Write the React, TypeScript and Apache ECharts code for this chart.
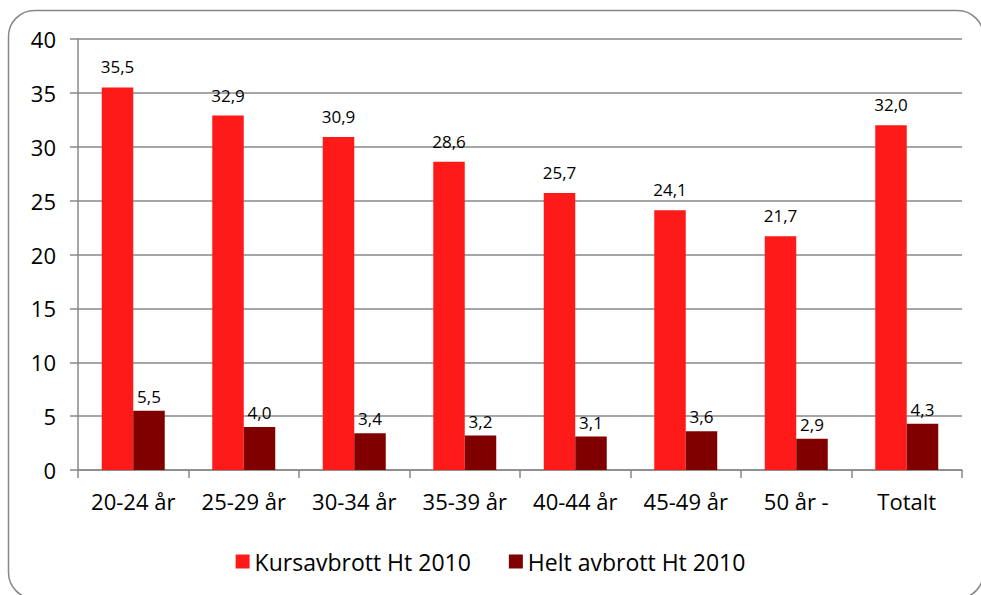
import React, { useEffect, useRef } from "react";
import * as echarts from "echarts";

const categories = ["20-24 år", "25-29 år", "30-34 år", "35-39 år", "40-44 år", "45-49 år", "50 år -", "Totalt"];
const kursavbrott = [35.5, 32.9, 30.9, 28.6, 25.7, 24.1, 21.7, 32.0];
const heltAvbrott = [5.5, 4.0, 3.4, 3.2, 3.1, 3.6, 2.9, 4.3];
const seriesNames = ["Kursavbrott Ht 2010", "Helt avbrott Ht 2010"];

const FONT = "'Open Sans', 'Noto Sans', sans-serif";

export default function App() {
  const ref = useRef<HTMLDivElement>(null);
  useEffect(() => {
    if (!ref.current) return;
    const chart = echarts.init(ref.current, null, { renderer: "svg" });
    const fmt = (p: any) => Number(p.value).toFixed(1).replace(".", ",");
    chart.setOption({
      animation: false,
      backgroundColor: "#fff",
      textStyle: { fontFamily: FONT },
      graphic: [
        {
          type: "rect",
          shape: { x: 8.5, y: 10.5, width: 975, height: 588, r: 26 },
          style: { fill: "none", stroke: "#888", lineWidth: 1.5 },
          silent: true,
        },
      ],
      grid: { left: 78, right: 19, top: 39, bottom: 125 },
      legend: {
        bottom: 17,
        left: "center",
        itemWidth: 14,
        itemHeight: 14,
        itemGap: 38,
        icon: "rect",
        textStyle: { fontSize: 23, color: "#000", fontFamily: FONT },
        data: seriesNames,
      },
      xAxis: {
        type: "category",
        data: categories,
        axisLine: { lineStyle: { color: "#888", width: 1.5 } },
        axisTick: { show: true, length: 8, alignWithLabel: false, lineStyle: { color: "#888", width: 1.5 } },
        axisLabel: { fontSize: 22, color: "#000", margin: 20, fontFamily: FONT },
      },
      yAxis: {
        type: "value",
        min: 0,
        max: 40,
        interval: 5,
        axisLine: { show: true, lineStyle: { color: "#888", width: 1.5 } },
        axisTick: { show: true, length: 8, lineStyle: { color: "#888", width: 1.5 } },
        axisLabel: { fontSize: 22, color: "#000", margin: 22, fontFamily: FONT },
        splitLine: { lineStyle: { color: "#888", width: 1.5 } },
      },
      series: [
        {
          name: seriesNames[0],
          type: "bar",
          data: kursavbrott,
          barGap: "0%",
          barCategoryGap: "43%",
          itemStyle: { color: "#FF1A1A" },
          label: { show: true, position: "top", distance: 12, fontSize: 17, color: "#000", formatter: fmt, fontFamily: FONT },
        },
        {
          name: seriesNames[1],
          type: "bar",
          data: heltAvbrott,
          itemStyle: { color: "#800000" },
          label: { show: true, position: "top", distance: 6, fontSize: 17, color: "#000", formatter: fmt, fontFamily: FONT },
        },
      ],
    });
    return () => chart.dispose();
  }, []);
  return <div ref={ref} style={{ position: "fixed", left: 0, top: 0, width: 981, height: 595 }} />;
}
